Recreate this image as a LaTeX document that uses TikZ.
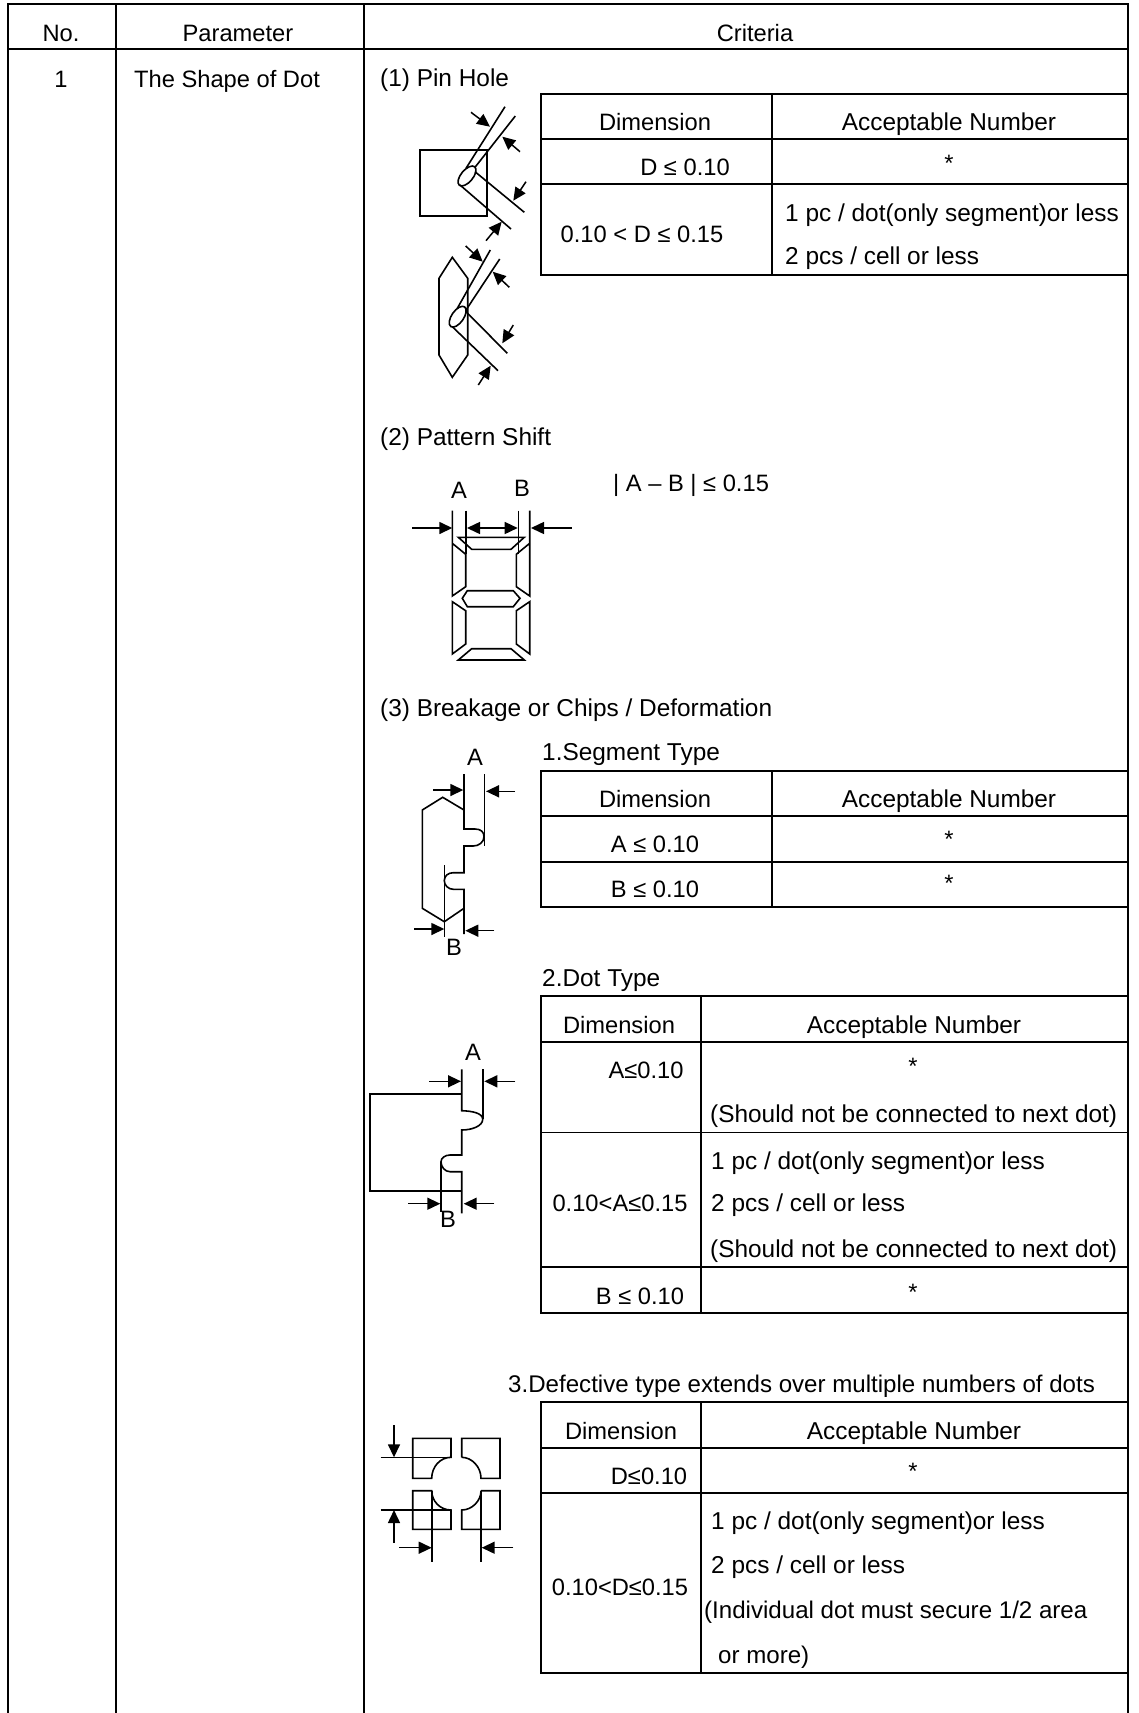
\documentclass[tikz,border=0pt]{standalone}
\usepackage{fontspec}
\setmainfont{Liberation Sans}
\usetikzlibrary{arrows.meta}

\begin{document}
\begin{tikzpicture}[x=1pt, y=-1pt, >={Stealth[inset=0pt, length=13pt, width=12pt]}, main node/.style={anchor=base, inner sep=0pt, font=\fontsize{23.7}{28}\selectfont}, wide node/.style={main node, font=\fontsize{24.4}{28}\selectfont}, left node/.style={wide node, anchor=base west}, tight node/.style={left node, font=\fontsize{24.1}{28}\selectfont}, rule/.style={line width=1.9pt}, sketch/.style={line width=1.6pt, line join=miter}, dim/.style={line width=1.5pt, ->}]
\useasboundingbox (0,0) rectangle (1138,1713);

% main table
\draw [rule] (8,1713) -- (8,4) -- (1128,4) -- (1128,1713);
\draw [rule] (8,49) -- (1128,49);
\draw [rule] (116,4) -- (116,1713);
\draw [rule] (364,4) -- (364,1713);

\node [main node] (no) at (61,41) {No.};
\node [main node] (param) at (238,41) {Parameter};
\node [main node] (crit) at (755,41) {Criteria};
\node [main node] (one) at (61,87) {1};
\node [main node] (shape) at (227,87) {The Shape of Dot};

% (1) pin hole
\node [left node] (pin) at (380,86) {(1) Pin Hole};
\draw [rule] (541,94) rectangle (1128,275);
\draw [rule] (772,94) -- (772,275);
\foreach \y in {139,184} \draw [rule] (541,\y) -- (1128,\y);
\node [main node] (t1a) at (655,130) {Dimension};
\node [wide node] (t1b) at (949,130) {Acceptable Number};
\node [main node] (t1c) at (685,175) {D ≤ 0.10};
\node [main node] (t1d) at (949,171) {*};
\node [main node] (t1e) at (642,242) {0.10 < D ≤ 0.15};
\node [left node] (t1f) at (785,221) {1 pc / dot(only segment)or less};
\node [left node] (t1g) at (785,264) {2 pcs / cell or less};

\draw [sketch] (420,150) rectangle (486.7,215.7);
\draw [sketch] (467,176) ellipse [x radius=12, y radius=6, rotate=50];
\draw [sketch] (466,168.3) -- (505,106.7);
\draw [sketch] (475,167.3) -- (515.3,116);
\draw [sketch] (475,171.7) -- (524.3,212.3);
\draw [sketch] (460,185) -- (511,229);
\draw [dim] (471,112.3) -- (490,126.7);
\draw [dim] (520,151.7) -- (502.3,136.7);
\draw [dim] (526,181.7) -- (513.3,200.7);
\draw [dim] (486,240.7) -- (501.7,221.7);

\draw [sketch] (452.3,257.3) -- (467.7,278.3) -- (467.7,355) -- (452.3,377.3) -- (439,355) -- (439,278.3) -- cycle;
\draw [sketch] (457.7,316.7) ellipse [x radius=12, y radius=6, rotate=55];
\draw [sketch] (457.3,308.3) -- (490.3,250);
\draw [sketch] (466,310) -- (499.7,259);
\draw [sketch] (466,311.7) -- (507.3,353.3);
\draw [sketch] (452.3,326.7) -- (498,370.7);
\draw [dim] (465.7,246) -- (482.7,261.7);
\draw [dim] (509.3,287.3) -- (492.7,271.7);
\draw [dim] (513.3,325) -- (502.3,343.3);
\draw [dim] (478.3,385) -- (490.7,365.7);

% (2) pattern shift
\node [left node] (shift) at (380,445) {(2) Pattern Shift};
\node [main node, anchor=base west] (shiftv) at (613,491) {| A – B | ≤ 0.15};
\node [main node] (sa) at (459,498) {A};
\node [main node] (sb) at (522,496) {B};

\foreach \x/\s in {452.3/1, 529.7/-1} {
\draw [sketch] (\x,510.7) -- (\x,596) -- ++(\s*13.4,-9.3) -- ++(0,-32.4) -- (\x,543.3);
\draw [sketch] (\x,601.7) -- ++(\s*13.4,9) -- ++(0,33.3) -- (\x,654) -- cycle;
}
\draw [sketch] (465.7,510.7) -- (465.7,554.3);
\draw [sketch] (518.3,510.7) -- (518.3,554.3);
\draw [sketch] (458.3,537.3) -- (524.3,537.3) -- (511,549.3) -- (471.7,549.3) -- cycle;
\draw [sketch] (467.3,590.7) -- (513.3,590.7) -- (520,598.3) -- (513.3,606.7) -- (467.3,606.7) -- (462.3,598.3) -- cycle;
\draw [sketch] (458.3,660) -- (524.3,660) -- (511,648.7) -- (471.7,648.7) -- cycle;
\draw [dim] (412.3,528) -- (452.3,528);
\draw [dim] (571.7,528) -- (531,528);
\draw [dim, <->] (467,528) -- (517.7,528);

% (3) breakage
\node [left node] (brk) at (380,716) {(3) Breakage or Chips / Deformation};
\node [left node] (segt) at (542,760) {1.Segment Type};
\draw [rule] (541,771) rectangle (1128,907);
\draw [rule] (772,771) -- (772,907);
\foreach \y in {816,862} \draw [rule] (541,\y) -- (1128,\y);
\node [main node] (t2a) at (655,807) {Dimension};
\node [wide node] (t2b) at (949,807) {Acceptable Number};
\node [main node] (t2c) at (655,852) {A ≤ 0.10};
\node [main node] (t2d) at (949,847) {*};
\node [main node] (t2e) at (655,897) {B ≤ 0.10};
\node [main node] (t2f) at (949,891) {*};

\node [main node] (ca) at (475,765) {A};
\node [main node] (cb) at (454,955) {B};
\draw [sketch] (464,774) -- (464,829) -- (475,829) .. controls (481,829) and (484,832) .. (484,836.7) .. controls (484,842) and (479,846) .. (473.3,846) -- (464,846) -- (464,872.7) -- (453.3,872.7) .. controls (448,872.7) and (444.3,876) .. (444.3,880.7) .. controls (444.3,885) and (448,889.3) .. (453.3,889.3) -- (464,889.3) -- (464,934);
\draw [sketch] (484.3,774) -- (484.3,846);
\draw [sketch] (464,810) -- (442.7,797.3) -- (422.3,810) -- (422.3,908.3) -- (444.3,921.7) -- (464,908.3);
\draw [sketch] (444.3,865) -- (444.3,936.7);
\draw [dim] (433.3,790) -- (463.3,790);
\draw [dim] (515,791.3) -- (486,791.3);
\draw [dim] (414.3,929) -- (444.3,929);
\draw [dim] (494.3,930.7) -- (465.3,930.7);

% dot type
\node [left node] (dott) at (542,986) {2.Dot Type};
\draw [rule] (541,996) rectangle (1128,1313);
\draw [rule] (701,996) -- (701,1313);
\foreach \y in {1042,1132.5,1267} \draw [rule] (541,\y) -- (1128,\y);
\node [main node] (t3a) at (619,1033) {Dimension};
\node [wide node] (t3b) at (914,1033) {Acceptable Number};
\node [main node] (t3c) at (646,1078) {A≤0.10};
\node [main node] (t3d) at (913,1074) {*};
\node [left node] (t3e) at (710,1122) {(Should not be connected to next dot)};
\node [left node] (t3f) at (711,1169) {1 pc / dot(only segment)or less};
\node [left node] (t3g) at (711,1211) {2 pcs / cell or less};
\node [left node] (t3h) at (710,1257) {(Should not be connected to next dot)};
\node [main node] (t3i) at (620,1211) {0.10<A≤0.15};
\node [main node] (t3j) at (640,1304) {B ≤ 0.10};
\node [main node] (t3k) at (913,1300) {*};

\node [main node] (da) at (473,1060) {A};
\node [main node] (db) at (448,1227) {B};
\draw [sketch] (461.7,1094) -- (370,1094) -- (370,1190.7) -- (461.7,1190.7);
\draw [sketch] (461.7,1069.3) -- (461.7,1110.7) .. controls (472,1111) and (482.7,1113) .. (482.7,1119.3) .. controls (482.7,1126) and (472,1130) .. (461.7,1130) -- (461.7,1155) -- (450,1155) .. controls (445,1155) and (441,1158) .. (441,1161.7) .. controls (441,1167) and (445,1171.7) .. (450,1171.7) -- (461.7,1171.7) -- (461.7,1213.3);
\draw [sketch] (482.7,1069.3) -- (482.7,1119.3);
\draw [sketch] (441,1161.7) -- (441,1212.3);
\draw [dim] (429,1081.3) -- (461,1081.3);
\draw [dim] (515.3,1081.3) -- (484.3,1081.3);
\draw [dim] (408.3,1203.7) -- (440.3,1203.7);
\draw [dim] (494.3,1203.7) -- (463.7,1203.7);

% defective type
\node [tight node] (deft) at (508,1392) {3.Defective type extends over multiple numbers of dots};
\draw [rule] (541,1402) rectangle (1128,1673);
\draw [rule] (701,1402) -- (701,1673);
\foreach \y in {1448,1493} \draw [rule] (541,\y) -- (1128,\y);
\node [main node] (t4a) at (621,1439) {Dimension};
\node [wide node] (t4b) at (914,1439) {Acceptable Number};
\node [main node] (t4c) at (649,1484) {D≤0.10};
\node [main node] (t4d) at (913,1479) {*};
\node [left node] (t4e) at (711,1529) {1 pc / dot(only segment)or less};
\node [left node] (t4f) at (711,1573) {2 pcs / cell or less};
\node [tight node] (t4g) at (704,1618) {(Individual dot must secure 1/2 area};
\node [tight node] (t4h) at (718,1663) {or more)};
\node [main node] (t4i) at (620,1595) {0.10<D≤0.15};

\draw [sketch] (412.7,1438.3) -- (451,1438.3) -- (451,1457.3) .. controls (440,1457.3) and (431.7,1467) .. (431.7,1478.3) -- (412.7,1478.3) -- cycle;
\draw [sketch] (461.7,1457.3) -- (461.7,1438.3) -- (500,1438.3) -- (500,1478.3) -- (481,1478.3) .. controls (481,1467) and (472,1457.3) .. (461.7,1457.3);
\draw [sketch] (412.7,1490.7) -- (431.7,1490.7) .. controls (431.7,1501) and (440,1510) .. (451,1510) -- (451,1529.3) -- (412.7,1529.3) -- cycle;
\draw [sketch] (481,1490.7) -- (500,1490.7) -- (500,1529.3) -- (461.7,1529.3) -- (461.7,1510) .. controls (472,1510) and (481,1501) .. (481,1490.7);
\draw [sketch] (380.7,1457.3) -- (451,1457.3);
\draw [sketch] (380.7,1510) -- (451,1510);
\draw [sketch] (431.7,1490.7) -- (431.7,1561.7);
\draw [sketch] (480.7,1490.7) -- (480.7,1561.7);
\draw [dim] (394,1425) -- (394,1457.3);
\draw [dim] (394,1542.7) -- (394,1510);
\draw [dim] (399.3,1547.7) -- (431.7,1547.7);
\draw [dim] (513.3,1547.7) -- (481.7,1547.7);
\end{tikzpicture}
\end{document}
